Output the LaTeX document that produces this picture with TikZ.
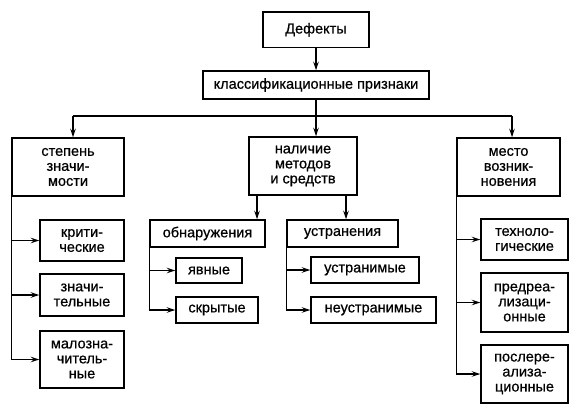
\documentclass[tikz,border=0pt]{standalone}
\usepackage{fontspec}
\setmainfont{Liberation Sans}[FakeBold=0.6]
\usetikzlibrary{arrows.meta}
\tikzset{
  box/.style={draw, line width=1.4pt, inner sep=0pt, align=center,
    font=\fontsize{14.5}{15}\selectfont},
  arr/.style={line width=1.4pt, -{Stealth[length=8.5pt,width=5.5pt]}},
  ln/.style={line width=1.4pt}
}
\begin{document}
\begin{tikzpicture}[x=1pt,y=-1pt]
\useasboundingbox[fill=white] (0,0) rectangle (580,417);
% top
\node[box, minimum width=106, minimum height=35.5] (def) at (316,29.75) {Дефекты};
\node[box, minimum width=226, minimum height=28] (kl) at (316,85) {классификационные признаки};
% level 2
\node[box, minimum width=112, minimum height=58] (st) at (68,167) {степень\\значи-\\мости};
\node[box, minimum width=108, minimum height=58] (nal) at (303,166) {наличие\\методов\\и средств};
\node[box, minimum width=103, minimum height=58] (mes) at (508.5,167) {место\\возник-\\новения};
% left column
\node[box, minimum width=84, minimum height=41] (krit) at (82,240.5) {крити-\\ческие};
\node[box, minimum width=84, minimum height=42] (zn) at (82,295) {значи-\\тельные};
\node[box, minimum width=84, minimum height=57] (malo) at (82,359.5) {малозна-\\читель-\\ные};
% middle
\node[box, minimum width=115, minimum height=27] (obn) at (207.5,233.5) {обнаружения};
\node[box, minimum width=66, minimum height=25] (yav) at (209,270.5) {явные};
\node[box, minimum width=82, minimum height=26] (skr) at (217,310) {скрытые};
\node[box, minimum width=111, minimum height=27] (ust) at (342.5,233.5) {устранения};
\node[box, minimum width=108, minimum height=26] (ustr) at (365,270) {устранимые};
\node[box, minimum width=125, minimum height=26] (neu) at (373.5,310) {неустранимые};
% right column
\node[box, minimum width=87, minimum height=41] (tex) at (524.5,239.5) {техноло-\\гические};
\node[box, minimum width=87, minimum height=59] (pred) at (524.5,302.5) {предреа-\\лизаци-\\онные};
\node[box, minimum width=87, minimum height=58] (posl) at (524.5,374) {послере-\\ализа-\\ционные};
% connectors top
\draw[arr] (def) -- (kl);
\coordinate (hl) at (73,116);
\coordinate (hr) at (512,116);
\draw[ln] (kl.south) -- (kl.south |- hl);
\draw[ln] (hl) -- (hr);
\draw[arr] (hl) -- (hl |- st.north);
\draw[arr] (hr) -- (hr |- mes.north);
\draw[arr] (kl.south |- hl) -- (kl.south |- nal.north);
% left branch
\draw[ln] (st.south west) -- (st.south west |- malo.west);
\draw[arr] (st.south west |- krit.west) -- (krit.west);
\draw[arr] (st.south west |- zn.west) -- (zn.west);
\draw[arr] (st.south west |- malo.west) -- (malo.west);
% middle branches
\coordinate (a1) at (257,195);
\coordinate (a2) at (346,195);
\draw[arr] (a1) -- (a1 |- obn.north);
\draw[arr] (a2) -- (a2 |- ust.north);
\draw[ln] (obn.south west) -- (obn.south west |- skr.west);
\draw[arr] (obn.south west |- yav.west) -- (yav.west);
\draw[arr] (obn.south west |- skr.west) -- (skr.west);
\draw[ln] (ust.south west) -- (ust.south west |- neu.west);
\draw[arr] (ust.south west |- ustr.west) -- (ustr.west);
\draw[arr] (ust.south west |- neu.west) -- (neu.west);
% right branch
\draw[ln] (mes.south west) -- (mes.south west |- posl.west);
\draw[arr] (mes.south west |- tex.west) -- (tex.west);
\draw[arr] (mes.south west |- pred.west) -- (pred.west);
\draw[arr] (mes.south west |- posl.west) -- (posl.west);
\end{tikzpicture}
\end{document}
